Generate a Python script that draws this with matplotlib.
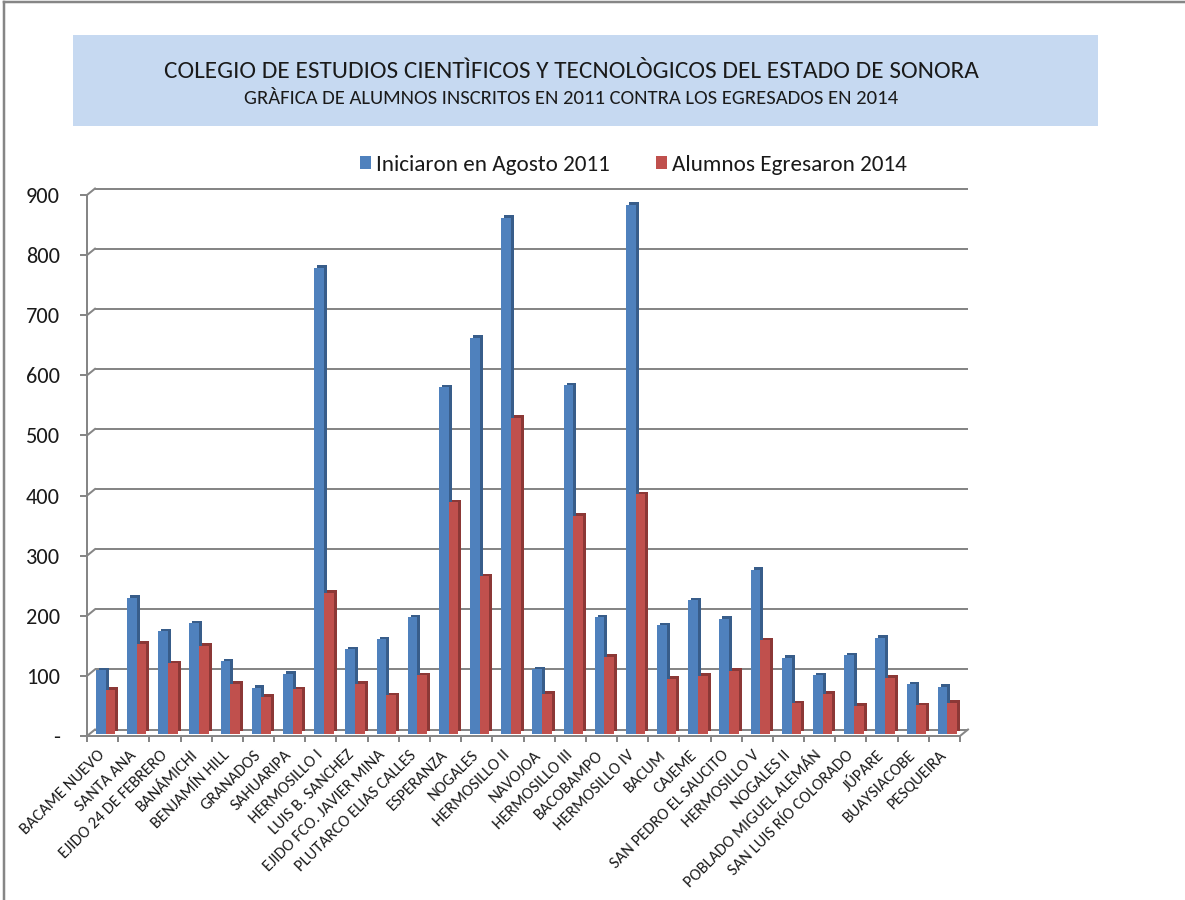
import matplotlib
matplotlib.use('Agg')
import matplotlib.pyplot as plt
import matplotlib.transforms as mtransforms
from matplotlib.lines import Line2D
from matplotlib.patches import Rectangle, Patch
from matplotlib import font_manager as fm
import numpy as np

# ---------------- data ----------------
categories = [
    "BACAME NUEVO", "SANTA ANA", "EJIDO 24 DE FEBRERO", "BANÁMICHI",
    "BENJAMÍN HILL", "GRANADOS", "SAHUARIPA", "HERMOSILLO I",
    "LUIS B. SANCHEZ", "EJIDO FCO. JAVIER MINA", "PLUTARCO ELIAS CALLES",
    "ESPERANZA", "NOGALES", "HERMOSILLO II", "NAVOJOA", "HERMOSILLO III",
    "BACOBAMPO", "HERMOSILLO IV", "BACUM", "CAJEME", "SAN PEDRO EL SAUCITO",
    "HERMOSILLO V", "NOGALES II", "POBLADO MIGUEL ALEMÁN",
    "SAN LUIS RÍO COLORADO", "JÚPARE", "BUAYSIACOBE", "PESQUEIRA",
]
iniciaron = [105, 226, 170, 183, 120, 76, 99, 775, 140, 157, 193, 576, 658,
             858, 107, 579, 193, 880, 180, 222, 191, 272, 126, 97, 130, 159,
             82, 78]
egresaron = [73, 149, 117, 146, 83, 61, 74, 234, 83, 64, 97, 385, 262, 525,
             66, 362, 128, 398, 91, 96, 104, 155, 50, 66, 46, 93, 47, 51]
series_names = ["Iniciaron en Agosto 2011", "Alumnos Egresaron 2014"]
yticks = [0, 100, 200, 300, 400, 500, 600, 700, 800, 900]
ytick_labels = ["-", "100", "200", "300", "400", "500", "600", "700", "800", "900"]
title = "COLEGIO DE ESTUDIOS CIENTÌFICOS Y TECNOLÒGICOS DEL ESTADO DE SONORA"
subtitle = "GRÀFICA DE ALUMNOS INSCRITOS EN 2011 CONTRA LOS EGRESADOS EN 2014"

# ---------------- style ----------------
BLUE, BLUE_D = "#4F81BD", "#385D8A"
RED, RED_D = "#C0504D", "#8C3836"
GRID = "#868686"
TXT = "#1A1A1A"

avail = {f.name for f in fm.fontManager.ttflist}
FONT = next((f for f in ["Carlito", "Liberation Sans Narrow", "Roboto Condensed",
                         "Arial Narrow", "Liberation Sans"] if f in avail), "DejaVu Sans")
plt.rcParams['font.family'] = [FONT, 'DejaVu Sans']

W, H = 1185, 900
fig = plt.figure(figsize=(W / 100, H / 100), dpi=100)
renderer = fig.canvas.get_renderer()
PX = 72 / 100  # points per pixel


def fit_size(text, target_px):
    t = fig.text(0, 0, text, fontsize=20)
    w = t.get_window_extent(renderer).width
    t.remove()
    return 20 * target_px / w


# outer border (left and top)
fig.add_artist(Line2D([3.5 / W, 3.5 / W], [0, 1 - 2 / H], transform=fig.transFigure,
                      color=GRID, lw=2.5 * PX))
fig.add_artist(Line2D([3.5 / W, 1], [1 - 2 / H, 1 - 2 / H], transform=fig.transFigure,
                      color=GRID, lw=2.5 * PX))

# title box
fig.add_artist(Rectangle((73 / W, 1 - 126 / H), (1098 - 73) / W, (126 - 35) / H,
                         transform=fig.transFigure, facecolor="#C6D9F1", edgecolor="none"))
fig.text(571 / W, 1 - 72 / H, title, ha='center', va='center', color=TXT,
         fontsize=fit_size(title, 815))
fig.text(571 / W, 1 - 98.5 / H, subtitle, ha='center', va='center', color=TXT,
         fontsize=fit_size(subtitle, 656))

# axes (front plane)
x0, x1, y0, y1 = 87, 960, 736, 195
ax = fig.add_axes([x0 / W, 1 - y0 / H, (x1 - x0) / W, (y0 - y1) / H])
n = len(categories)
ax.set_xlim(-0.5, n - 0.5)
ax.set_ylim(0, 900)
ax.patch.set_alpha(0)

x = np.arange(n)
bw = 0.31
front_tr = mtransforms.offset_copy(ax.transData, fig=fig, x=3, y=2.5, units='dots')
side_tr = mtransforms.offset_copy(ax.transData, fig=fig, x=6, y=5, units='dots')
grid_tr = mtransforms.offset_copy(ax.transData, fig=fig, x=8, y=6.5, units='dots')

# back wall gridlines
ax.hlines(yticks, -0.5, n - 0.5, transform=grid_tr, color=GRID, lw=2 * PX, zorder=0,
          clip_on=False)

for vals, pos, col, dark in [(iniciaron, x - bw / 2, BLUE, BLUE_D),
                             (egresaron, x + bw / 2, RED, RED_D)]:
    ax.bar(pos, vals, bw, color=dark, transform=side_tr, zorder=2, linewidth=0,
           clip_on=False)
    ax.bar(pos, vals, bw, color=col, transform=front_tr, zorder=3, linewidth=0,
           clip_on=False)

# spines / ticks
for s in ['top', 'right']:
    ax.spines[s].set_visible(False)
for s in ['left', 'bottom']:
    ax.spines[s].set_color(GRID)
    ax.spines[s].set_linewidth(2 * PX)

ax.set_yticks(yticks)
ax.set_yticklabels(ytick_labels)
fs_y = fit_size("900", 34)
ax.tick_params(axis='y', direction='out', length=7 * PX, width=2 * PX, color=GRID,
               pad=20 * PX, labelsize=fs_y, labelcolor=TXT)

ax.set_xticks(x)
fs_cat = fit_size("POBLADO MIGUEL ALEMÁN", 186)
ax.set_xticklabels(categories, rotation=45, ha='right', va='center',
                   rotation_mode='anchor', fontsize=fs_cat, color=TXT)
ax.tick_params(axis='x', which='major', length=0, pad=17 * PX)
ax.set_xticks(np.arange(n + 1) - 0.5, minor=True)
ax.tick_params(axis='x', which='minor', direction='out', length=6 * PX, width=2 * PX,
               color=GRID)

# 3D connectors: front ticks to back wall, right floor edge
for yt in yticks:
    p = ax.transData.transform((-0.5, yt))
    fig.add_artist(Line2D([p[0], p[0] + 8], [p[1], p[1] + 6.5],
                          transform=mtransforms.IdentityTransform(),
                          color=GRID, lw=2 * PX))
p = ax.transData.transform((n - 0.5, 0))
fig.add_artist(Line2D([p[0], p[0] + 8], [p[1], p[1] + 6.5],
                      transform=mtransforms.IdentityTransform(), color=GRID, lw=2 * PX))

# legend
fs_leg = fit_size(series_names[0], 234)
u = fs_leg / PX
handles = [Patch(facecolor=BLUE, edgecolor='none'), Patch(facecolor=RED, edgecolor='none')]
fig.legend(handles, series_names, loc='center', bbox_to_anchor=(633.5 / W, 1 - 165 / H),
           ncol=2, frameon=False, fontsize=fs_leg, handlelength=11 / u,
           handleheight=11 / u, handletextpad=5 / u, columnspacing=46 / u,
           borderpad=0, borderaxespad=0, labelcolor=TXT)

fig.savefig('out.png', dpi=100)
